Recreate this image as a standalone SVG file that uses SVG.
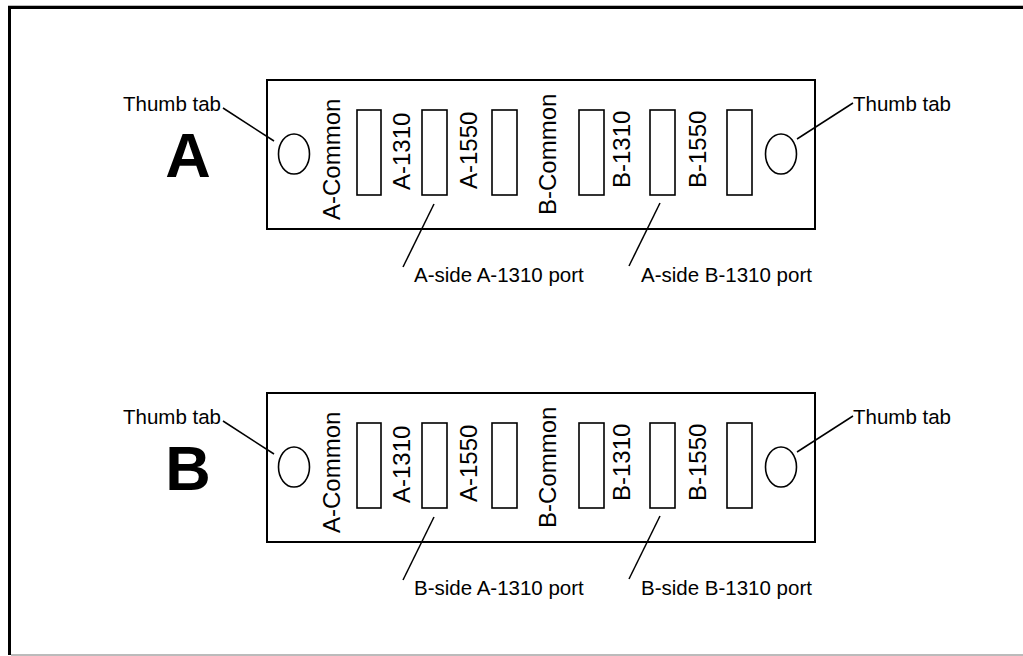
<svg xmlns="http://www.w3.org/2000/svg" width="1023" height="656" viewBox="0 0 1023 656">
<style>
.box{fill:#fff;stroke:#000;stroke-width:2}
.port{fill:#fff;stroke:#000;stroke-width:1.6}
.ln{stroke:#000;stroke-width:1.5;fill:none}
.lbl{font-family:"Liberation Sans",Arial,sans-serif;font-size:20.5px;fill:#000}
.rot{font-family:"Liberation Sans",Arial,sans-serif;font-size:24px;fill:#000}
.big{font-family:"Liberation Sans",Arial,sans-serif;font-size:63px;font-weight:bold;fill:#000}
</style>
<defs>
<g id="panel">
<rect class="box" x="267" y="80" width="548" height="149"/>
<ellipse class="port" cx="294" cy="154" rx="15.5" ry="20"/>
<ellipse class="port" cx="781" cy="154" rx="15.5" ry="20"/>
<rect class="port" x="357" y="110" width="24" height="85"/>
<rect class="port" x="422" y="110" width="25" height="85"/>
<rect class="port" x="492" y="110" width="25" height="85"/>
<rect class="port" x="579" y="110" width="25" height="85"/>
<rect class="port" x="650" y="110" width="25" height="85"/>
<rect class="port" x="727" y="110" width="25" height="85"/>
<text class="rot" transform="translate(340,220) rotate(-90)">A-Common</text>
<text class="rot" transform="translate(410,190) rotate(-90)">A-1310</text>
<text class="rot" transform="translate(477,189) rotate(-90)">A-1550</text>
<text class="rot" transform="translate(556,215) rotate(-90)">B-Common</text>
<text class="rot" transform="translate(630,188) rotate(-90)">B-1310</text>
<text class="rot" transform="translate(706,188) rotate(-90)">B-1550</text>
<text class="lbl" x="123" y="111">Thumb tab</text>
<text class="lbl" x="853" y="111">Thumb tab</text>
</g>
</defs>
<rect x="0" y="0" width="1023" height="656" fill="#fff"/>
<rect x="8" y="5" width="1015" height="1" fill="#bbb"/>
<rect x="8" y="6" width="1015" height="3" fill="#000"/>
<rect x="8" y="6" width="3" height="649" fill="#000"/>
<rect x="11" y="654" width="1012" height="2" fill="#bbb"/>

<g id="panelA">
<use href="#panel"/>
<text class="big" x="188" y="177" text-anchor="middle">A</text>
<text class="lbl" x="414" y="282">A-side A-1310 port</text>
<text class="lbl" x="641" y="282">A-side B-1310 port</text>
</g>
<g id="panelB" transform="translate(0,313)">
<use href="#panel"/>
<text class="big" x="188" y="177" text-anchor="middle">B</text>
<text class="lbl" x="414" y="282">B-side A-1310 port</text>
<text class="lbl" x="641" y="282">B-side B-1310 port</text>
</g>
<g id="connectors">
<line class="ln" x1="223" y1="108" x2="274" y2="141"/>
<line class="ln" x1="797" y1="139" x2="853" y2="103"/>
<line class="ln" x1="434" y1="204" x2="403" y2="267"/>
<line class="ln" x1="660" y1="203" x2="629" y2="266"/>
<line class="ln" x1="223" y1="421" x2="274" y2="454"/>
<line class="ln" x1="797" y1="452" x2="853" y2="416"/>
<line class="ln" x1="434" y1="517" x2="403" y2="580"/>
<line class="ln" x1="660" y1="516" x2="629" y2="579"/>
</g>
</svg>
